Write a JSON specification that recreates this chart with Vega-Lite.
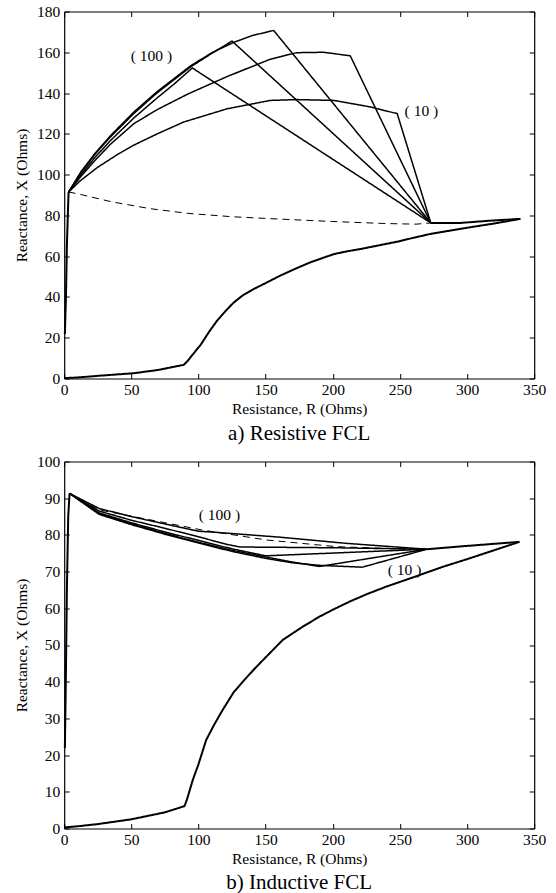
{
  "$schema": "https://vega.github.io/schema/vega-lite/v6.json",
  "background": "white",
  "padding": {"left": 14.2, "top": 4.5, "right": 5, "bottom": 5},
  "spacing": 11,
  "config": {
    "font": "Liberation Serif",
    "view": {"stroke": null},
    "axis": {
      "labelFont": "Liberation Serif", "titleFont": "Liberation Serif",
      "labelFontSize": 15.5, "titleFontSize": 15.5, "titleFontWeight": "normal",
      "labelColor": "black", "titleColor": "black",
      "domainColor": "black", "domainWidth": 1.2,
      "tickColor": "black", "tickSize": -5, "tickWidth": 1,
      "grid": false, "labelFlush": false
    },
    "axisX": {"labelPadding": 9, "titlePadding": 3.5},
    "axisY": {"labelPadding": 9.5, "titlePadding": 7},
    "title": {"font": "Liberation Serif", "fontSize": 21, "fontWeight": "normal", "color": "black"}
  },
  "datasets": {
    "resistive": [
      {"curve": "swing", "case": "swing", "R": 0, "X": 0.2},
      {"curve": "swing", "case": "swing", "R": 10, "X": 0.5},
      {"curve": "swing", "case": "swing", "R": 25, "X": 1.3},
      {"curve": "swing", "case": "swing", "R": 52, "X": 2.6},
      {"curve": "swing", "case": "swing", "R": 70, "X": 4.2},
      {"curve": "swing", "case": "swing", "R": 89, "X": 6.7},
      {"curve": "swing", "case": "swing", "R": 91.5, "X": 8.3},
      {"curve": "swing", "case": "swing", "R": 96, "X": 12},
      {"curve": "swing", "case": "swing", "R": 101.6, "X": 16.5},
      {"curve": "swing", "case": "swing", "R": 108, "X": 23},
      {"curve": "swing", "case": "swing", "R": 114, "X": 28.5},
      {"curve": "swing", "case": "swing", "R": 120, "X": 33},
      {"curve": "swing", "case": "swing", "R": 126.3, "X": 37.3},
      {"curve": "swing", "case": "swing", "R": 133, "X": 40.8},
      {"curve": "swing", "case": "swing", "R": 141.2, "X": 43.9},
      {"curve": "swing", "case": "swing", "R": 150, "X": 46.8},
      {"curve": "swing", "case": "swing", "R": 161, "X": 50.5},
      {"curve": "swing", "case": "swing", "R": 172, "X": 53.8},
      {"curve": "swing", "case": "swing", "R": 183.4, "X": 57},
      {"curve": "swing", "case": "swing", "R": 192, "X": 59},
      {"curve": "swing", "case": "swing", "R": 200.8, "X": 61},
      {"curve": "swing", "case": "swing", "R": 210, "X": 62.3},
      {"curve": "swing", "case": "swing", "R": 220.6, "X": 63.5},
      {"curve": "swing", "case": "swing", "R": 235, "X": 65.4},
      {"curve": "swing", "case": "swing", "R": 248, "X": 67.1},
      {"curve": "swing", "case": "swing", "R": 260, "X": 69},
      {"curve": "swing", "case": "swing", "R": 272.7, "X": 70.9},
      {"curve": "swing", "case": "swing", "R": 287, "X": 72.5},
      {"curve": "swing", "case": "swing", "R": 302.5, "X": 74.2},
      {"curve": "swing", "case": "swing", "R": 320, "X": 76},
      {"curve": "swing", "case": "swing", "R": 339.7, "X": 78.3},
      {"curve": "return", "case": "swing", "R": 273, "X": 76.3},
      {"curve": "return", "case": "swing", "R": 295, "X": 76.3},
      {"curve": "return", "case": "swing", "R": 317, "X": 77.4},
      {"curve": "return", "case": "swing", "R": 339.7, "X": 78.3},
      {"curve": "rise", "case": "swing", "R": 0.5, "X": 21.8},
      {"curve": "rise", "case": "swing", "R": 1.3, "X": 40},
      {"curve": "rise", "case": "swing", "R": 2, "X": 65},
      {"curve": "rise", "case": "swing", "R": 3, "X": 86.5},
      {"curve": "rise", "case": "swing", "R": 3.3, "X": 91.5},
      {"curve": "f5", "case": "with FCL", "R": 3.3, "X": 91.5},
      {"curve": "f5", "case": "with FCL", "R": 12.3, "X": 101.2},
      {"curve": "f5", "case": "with FCL", "R": 23, "X": 110.5},
      {"curve": "f5", "case": "with FCL", "R": 34.6, "X": 119.2},
      {"curve": "f5", "case": "with FCL", "R": 51.9, "X": 130.7},
      {"curve": "f5", "case": "with FCL", "R": 69, "X": 140.6},
      {"curve": "f5", "case": "with FCL", "R": 94, "X": 153.3},
      {"curve": "f5", "case": "with FCL", "R": 110, "X": 159.8},
      {"curve": "f5", "case": "with FCL", "R": 126, "X": 164.8},
      {"curve": "f5", "case": "with FCL", "R": 140, "X": 168.2},
      {"curve": "f5", "case": "with FCL", "R": 156, "X": 170.7},
      {"curve": "f5", "case": "with FCL", "R": 273, "X": 76.3},
      {"curve": "f4", "case": "with FCL", "R": 3.3, "X": 91.5},
      {"curve": "f4", "case": "with FCL", "R": 12.3, "X": 100.8},
      {"curve": "f4", "case": "with FCL", "R": 23, "X": 110},
      {"curve": "f4", "case": "with FCL", "R": 34.6, "X": 118.6},
      {"curve": "f4", "case": "with FCL", "R": 51.9, "X": 130},
      {"curve": "f4", "case": "with FCL", "R": 69, "X": 140},
      {"curve": "f4", "case": "with FCL", "R": 94, "X": 152.8},
      {"curve": "f4", "case": "with FCL", "R": 110, "X": 159.5},
      {"curve": "f4", "case": "with FCL", "R": 125, "X": 165.5},
      {"curve": "f4", "case": "with FCL", "R": 273, "X": 76.3},
      {"curve": "f3", "case": "with FCL", "R": 3.3, "X": 91.5},
      {"curve": "f3", "case": "with FCL", "R": 12.3, "X": 99.8},
      {"curve": "f3", "case": "with FCL", "R": 23, "X": 108.5},
      {"curve": "f3", "case": "with FCL", "R": 34.6, "X": 116.8},
      {"curve": "f3", "case": "with FCL", "R": 51.9, "X": 127.8},
      {"curve": "f3", "case": "with FCL", "R": 69, "X": 137.5},
      {"curve": "f3", "case": "with FCL", "R": 82, "X": 144.5},
      {"curve": "f3", "case": "with FCL", "R": 95.4, "X": 152.3},
      {"curve": "f3", "case": "with FCL", "R": 273, "X": 76.3},
      {"curve": "f2", "case": "with FCL", "R": 3.3, "X": 91.5},
      {"curve": "f2", "case": "with FCL", "R": 12.3, "X": 99},
      {"curve": "f2", "case": "with FCL", "R": 23, "X": 107},
      {"curve": "f2", "case": "with FCL", "R": 34.6, "X": 115},
      {"curve": "f2", "case": "with FCL", "R": 51.9, "X": 125},
      {"curve": "f2", "case": "with FCL", "R": 69, "X": 131.8},
      {"curve": "f2", "case": "with FCL", "R": 92, "X": 139.5},
      {"curve": "f2", "case": "with FCL", "R": 121, "X": 148},
      {"curve": "f2", "case": "with FCL", "R": 153, "X": 156.5},
      {"curve": "f2", "case": "with FCL", "R": 173, "X": 159.8},
      {"curve": "f2", "case": "with FCL", "R": 193, "X": 160},
      {"curve": "f2", "case": "with FCL", "R": 213, "X": 158.3},
      {"curve": "f2", "case": "with FCL", "R": 273, "X": 76.3},
      {"curve": "f1", "case": "with FCL", "R": 3.3, "X": 91.5},
      {"curve": "f1", "case": "with FCL", "R": 12, "X": 97},
      {"curve": "f1", "case": "with FCL", "R": 24.7, "X": 103.5},
      {"curve": "f1", "case": "with FCL", "R": 40, "X": 110},
      {"curve": "f1", "case": "with FCL", "R": 52, "X": 114.5},
      {"curve": "f1", "case": "with FCL", "R": 69.3, "X": 120},
      {"curve": "f1", "case": "with FCL", "R": 89, "X": 125.8},
      {"curve": "f1", "case": "with FCL", "R": 121.4, "X": 132.3},
      {"curve": "f1", "case": "with FCL", "R": 153.6, "X": 136.4},
      {"curve": "f1", "case": "with FCL", "R": 173.5, "X": 136.8},
      {"curve": "f1", "case": "with FCL", "R": 200.8, "X": 136.4},
      {"curve": "f1", "case": "with FCL", "R": 228, "X": 133.2},
      {"curve": "f1", "case": "with FCL", "R": 248, "X": 129.9},
      {"curve": "f1", "case": "with FCL", "R": 273, "X": 76.3},
      {"curve": "nofcl", "case": "without FCL", "R": 3.3, "X": 91.5},
      {"curve": "nofcl", "case": "without FCL", "R": 12, "X": 90.3},
      {"curve": "nofcl", "case": "without FCL", "R": 35, "X": 86.7},
      {"curve": "nofcl", "case": "without FCL", "R": 64, "X": 83.3},
      {"curve": "nofcl", "case": "without FCL", "R": 92, "X": 81},
      {"curve": "nofcl", "case": "without FCL", "R": 126, "X": 79.3},
      {"curve": "nofcl", "case": "without FCL", "R": 160, "X": 78.2},
      {"curve": "nofcl", "case": "without FCL", "R": 200, "X": 77},
      {"curve": "nofcl", "case": "without FCL", "R": 240, "X": 76},
      {"curve": "nofcl", "case": "without FCL", "R": 262, "X": 75.7},
      {"curve": "nofcl", "case": "without FCL", "R": 273, "X": 76.3}
    ],
    "resistiveLabels": [
      {"R": 65, "X": 158, "label": "( 100 )"},
      {"R": 266, "X": 131, "label": "( 10 )"}
    ],
    "inductive": [
      {"curve": "swing", "case": "swing", "R": 0, "X": 0.3},
      {"curve": "swing", "case": "swing", "R": 10, "X": 0.6},
      {"curve": "swing", "case": "swing", "R": 25, "X": 1.2},
      {"curve": "swing", "case": "swing", "R": 50, "X": 2.5},
      {"curve": "swing", "case": "swing", "R": 75, "X": 4.4},
      {"curve": "swing", "case": "swing", "R": 89.6, "X": 6.1},
      {"curve": "swing", "case": "swing", "R": 91.5, "X": 8},
      {"curve": "swing", "case": "swing", "R": 96, "X": 13.5},
      {"curve": "swing", "case": "swing", "R": 100, "X": 17.5},
      {"curve": "swing", "case": "swing", "R": 105.7, "X": 24.1},
      {"curve": "swing", "case": "swing", "R": 112, "X": 28.5},
      {"curve": "swing", "case": "swing", "R": 118, "X": 32.3},
      {"curve": "swing", "case": "swing", "R": 126, "X": 37},
      {"curve": "swing", "case": "swing", "R": 134.2, "X": 40.5},
      {"curve": "swing", "case": "swing", "R": 143, "X": 44},
      {"curve": "swing", "case": "swing", "R": 152.9, "X": 47.7},
      {"curve": "swing", "case": "swing", "R": 162.8, "X": 51.4},
      {"curve": "swing", "case": "swing", "R": 177.7, "X": 55},
      {"curve": "swing", "case": "swing", "R": 190, "X": 57.7},
      {"curve": "swing", "case": "swing", "R": 200, "X": 59.6},
      {"curve": "swing", "case": "swing", "R": 212.4, "X": 61.8},
      {"curve": "swing", "case": "swing", "R": 225, "X": 63.8},
      {"curve": "swing", "case": "swing", "R": 239.8, "X": 65.9},
      {"curve": "swing", "case": "swing", "R": 259.6, "X": 68.4},
      {"curve": "swing", "case": "swing", "R": 281.9, "X": 71.3},
      {"curve": "swing", "case": "swing", "R": 301.8, "X": 73.6},
      {"curve": "swing", "case": "swing", "R": 320, "X": 75.8},
      {"curve": "swing", "case": "swing", "R": 339, "X": 78.1},
      {"curve": "return", "case": "swing", "R": 270, "X": 76.1},
      {"curve": "return", "case": "swing", "R": 300, "X": 77},
      {"curve": "return", "case": "swing", "R": 339, "X": 78.1},
      {"curve": "rise", "case": "swing", "R": 0.5, "X": 21.9},
      {"curve": "rise", "case": "swing", "R": 1.2, "X": 40},
      {"curve": "rise", "case": "swing", "R": 2, "X": 65},
      {"curve": "rise", "case": "swing", "R": 3, "X": 85},
      {"curve": "rise", "case": "swing", "R": 4, "X": 91.3},
      {"curve": "f1", "case": "with FCL", "R": 4, "X": 91.3},
      {"curve": "f1", "case": "with FCL", "R": 26, "X": 87.2},
      {"curve": "f1", "case": "with FCL", "R": 50, "X": 85},
      {"curve": "f1", "case": "with FCL", "R": 71, "X": 83.3},
      {"curve": "f1", "case": "with FCL", "R": 100, "X": 81},
      {"curve": "f1", "case": "with FCL", "R": 113, "X": 80.7},
      {"curve": "f1", "case": "with FCL", "R": 160, "X": 79.4},
      {"curve": "f1", "case": "with FCL", "R": 210, "X": 77.7},
      {"curve": "f1", "case": "with FCL", "R": 270, "X": 76.1},
      {"curve": "f2", "case": "with FCL", "R": 4, "X": 91.3},
      {"curve": "f2", "case": "with FCL", "R": 26, "X": 86.5},
      {"curve": "f2", "case": "with FCL", "R": 50, "X": 84},
      {"curve": "f2", "case": "with FCL", "R": 75, "X": 81.8},
      {"curve": "f2", "case": "with FCL", "R": 100, "X": 79.5},
      {"curve": "f2", "case": "with FCL", "R": 120, "X": 77.5},
      {"curve": "f2", "case": "with FCL", "R": 131, "X": 76.7},
      {"curve": "f2", "case": "with FCL", "R": 200, "X": 76.5},
      {"curve": "f2", "case": "with FCL", "R": 270, "X": 76.1},
      {"curve": "f3", "case": "with FCL", "R": 4, "X": 91.3},
      {"curve": "f3", "case": "with FCL", "R": 26, "X": 86},
      {"curve": "f3", "case": "with FCL", "R": 50, "X": 83.3},
      {"curve": "f3", "case": "with FCL", "R": 75, "X": 80.8},
      {"curve": "f3", "case": "with FCL", "R": 100, "X": 78.5},
      {"curve": "f3", "case": "with FCL", "R": 125, "X": 76.2},
      {"curve": "f3", "case": "with FCL", "R": 150, "X": 74.3},
      {"curve": "f3", "case": "with FCL", "R": 270, "X": 76.1},
      {"curve": "f4", "case": "with FCL", "R": 4, "X": 91.3},
      {"curve": "f4", "case": "with FCL", "R": 26, "X": 85.8},
      {"curve": "f4", "case": "with FCL", "R": 50, "X": 83},
      {"curve": "f4", "case": "with FCL", "R": 75, "X": 80.4},
      {"curve": "f4", "case": "with FCL", "R": 100, "X": 78},
      {"curve": "f4", "case": "with FCL", "R": 125, "X": 75.8},
      {"curve": "f4", "case": "with FCL", "R": 150, "X": 74},
      {"curve": "f4", "case": "with FCL", "R": 170, "X": 72.6},
      {"curve": "f4", "case": "with FCL", "R": 190, "X": 71.4},
      {"curve": "f4", "case": "with FCL", "R": 270, "X": 76.1},
      {"curve": "f5", "case": "with FCL", "R": 4, "X": 91.3},
      {"curve": "f5", "case": "with FCL", "R": 26, "X": 85.6},
      {"curve": "f5", "case": "with FCL", "R": 50, "X": 82.8},
      {"curve": "f5", "case": "with FCL", "R": 75, "X": 80.2},
      {"curve": "f5", "case": "with FCL", "R": 100, "X": 77.8},
      {"curve": "f5", "case": "with FCL", "R": 125, "X": 75.5},
      {"curve": "f5", "case": "with FCL", "R": 150, "X": 73.6},
      {"curve": "f5", "case": "with FCL", "R": 170, "X": 72.4},
      {"curve": "f5", "case": "with FCL", "R": 190, "X": 71.7},
      {"curve": "f5", "case": "with FCL", "R": 222, "X": 71.2},
      {"curve": "f5", "case": "with FCL", "R": 270, "X": 76.1},
      {"curve": "nofcl", "case": "without FCL", "R": 4, "X": 91.3},
      {"curve": "nofcl", "case": "without FCL", "R": 26.3, "X": 86.8},
      {"curve": "nofcl", "case": "without FCL", "R": 71, "X": 83.6},
      {"curve": "nofcl", "case": "without FCL", "R": 103.2, "X": 81.3},
      {"curve": "nofcl", "case": "without FCL", "R": 151, "X": 78.6},
      {"curve": "nofcl", "case": "without FCL", "R": 202.5, "X": 76.8},
      {"curve": "nofcl", "case": "without FCL", "R": 257, "X": 76.1},
      {"curve": "nofcl", "case": "without FCL", "R": 270, "X": 76.1}
    ],
    "inductiveLabels": [
      {"R": 115.6, "X": 85.4, "label": "( 100 )"},
      {"R": 253.5, "X": 70.4, "label": "( 10 )"}
    ]
  },
  "vconcat": [
    {
      "width": 470, "height": 367,
      "title": {"text": "a) Resistive FCL", "orient": "bottom", "offset": 5.5},
      "layer": [
        {
          "data": {"name": "resistive"},
          "mark": {"type": "line", "color": "black", "strokeJoin": "miter"},
          "encoding": {
            "x": {"field": "R", "type": "quantitative", "scale": {"domain": [0, 350], "nice": false, "zero": false},
                  "axis": {"title": "Resistance, R (Ohms)", "values": [0, 50, 100, 150, 200, 250, 300, 350]}},
            "y": {"field": "X", "type": "quantitative", "scale": {"domain": [0, 180], "nice": false},
                  "axis": {"title": "Reactance, X (Ohms)", "values": [0, 20, 40, 60, 80, 100, 120, 140, 160, 180]}},
            "detail": {"field": "curve"},
            "strokeWidth": {"field": "case", "type": "nominal", "scale": {"domain": ["swing", "with FCL", "without FCL"], "range": [2, 1, 1]}, "legend": null},
            "strokeDash": {"field": "case", "type": "nominal", "scale": {"domain": ["swing", "with FCL", "without FCL"], "range": [[1, 0], [1, 0], [7, 5]]}, "legend": null}
          }
        },
        {
          "data": {"name": "resistiveLabels"},
          "mark": {"type": "text", "font": "Liberation Serif", "fontSize": 15.5, "color": "black", "align": "center", "baseline": "middle"},
          "encoding": {
            "x": {"field": "R", "type": "quantitative", "axis": {"orient": "top", "labels": false, "title": null, "minExtent": 0, "labelPadding": 0, "values": [0, 50, 100, 150, 200, 250, 300, 350]}},
            "y": {"field": "X", "type": "quantitative", "axis": {"orient": "right", "labels": false, "title": null, "minExtent": 0, "labelPadding": 0, "values": [0, 20, 40, 60, 80, 100, 120, 140, 160, 180]}},
            "text": {"field": "label"}
          }
        }
      ],
      "resolve": {"axis": {"x": "independent", "y": "independent"}}
    },
    {
      "width": 470, "height": 367,
      "title": {"text": "b) Inductive FCL", "orient": "bottom", "offset": 5.5},
      "layer": [
        {
          "data": {"name": "inductive"},
          "mark": {"type": "line", "color": "black", "strokeJoin": "miter"},
          "encoding": {
            "x": {"field": "R", "type": "quantitative", "scale": {"domain": [0, 350], "nice": false, "zero": false},
                  "axis": {"title": "Resistance, R (Ohms)", "values": [0, 50, 100, 150, 200, 250, 300, 350]}},
            "y": {"field": "X", "type": "quantitative", "scale": {"domain": [0, 100], "nice": false},
                  "axis": {"title": "Reactance, X (Ohms)", "values": [0, 10, 20, 30, 40, 50, 60, 70, 80, 90, 100]}},
            "detail": {"field": "curve"},
            "strokeWidth": {"field": "case", "type": "nominal", "scale": {"domain": ["swing", "with FCL", "without FCL"], "range": [2, 1, 1]}, "legend": null},
            "strokeDash": {"field": "case", "type": "nominal", "scale": {"domain": ["swing", "with FCL", "without FCL"], "range": [[1, 0], [1, 0], [7, 5]]}, "legend": null}
          }
        },
        {
          "data": {"name": "inductiveLabels"},
          "mark": {"type": "text", "font": "Liberation Serif", "fontSize": 15.5, "color": "black", "align": "center", "baseline": "middle"},
          "encoding": {
            "x": {"field": "R", "type": "quantitative", "axis": {"orient": "top", "labels": false, "title": null, "minExtent": 0, "labelPadding": 0, "values": [0, 50, 100, 150, 200, 250, 300, 350]}},
            "y": {"field": "X", "type": "quantitative", "axis": {"orient": "right", "labels": false, "title": null, "minExtent": 0, "labelPadding": 0, "values": [0, 10, 20, 30, 40, 50, 60, 70, 80, 90, 100]}},
            "text": {"field": "label"}
          }
        }
      ],
      "resolve": {"axis": {"x": "independent", "y": "independent"}}
    }
  ]
}
